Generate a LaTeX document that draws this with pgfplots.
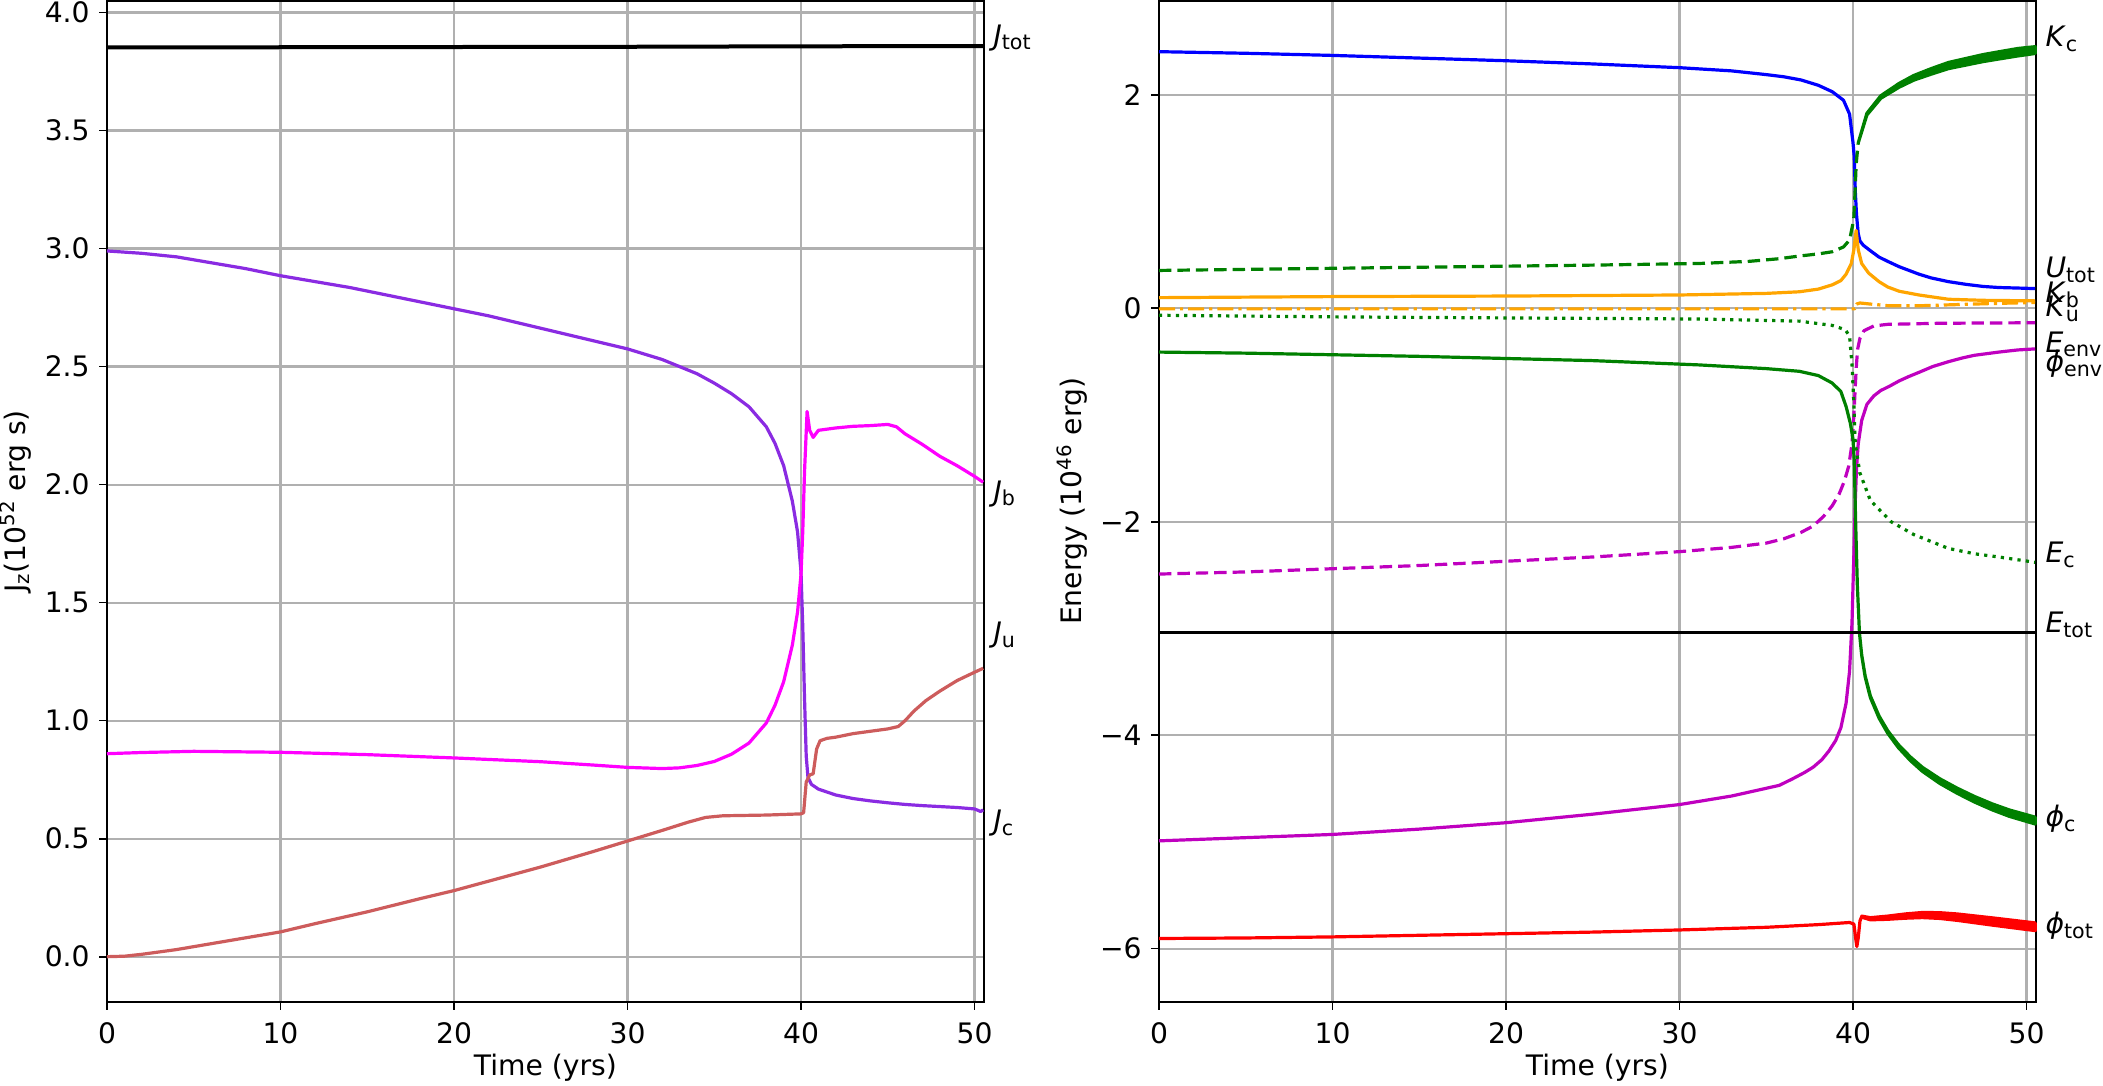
\documentclass[border=0pt]{standalone}
\usepackage{pgfplots}
\pgfplotsset{compat=1.18}
\usepackage{fontspec}
\setmainfont{DejaVu Sans}
\newcommand\fs{\fontsize{14.1}{17}\selectfont}
\newcommand\sub[1]{\raisebox{-2.4pt}{\fontsize{10.3}{12}\selectfont #1}}
\definecolor{bviolet}{HTML}{8A2BE2}
\definecolor{ired}{HTML}{CD5C5C}
\definecolor{mgreen}{HTML}{008000}
\definecolor{morange}{HTML}{FFA500}
\definecolor{mmag}{HTML}{BF00BF}
\definecolor{fmag}{HTML}{FF00FF}
\definecolor{gridc}{HTML}{B0B0B0}
\pgfplotsset{
 mystyle/.style={
  scale only axis, width=438.35pt, height=500.5pt, anchor=south west,
  xmin=0, xmax=50.53,
  xtick={0,10,20,30,40,50}, xticklabels={0,10,20,30,40,50},
  tick align=outside, xtick pos=left, ytick pos=left,
  major tick length=3.85pt,
  every tick/.style={black, line width=0.85pt},
  axis line style={line width=0.85pt},
  grid=major, major grid style={gridc, line width=1.1pt},
  xticklabel style={font=\fs, inner sep=0pt, anchor=north, yshift=-6pt},
  yticklabel style={font=\fs, inner sep=0pt, anchor=east, xshift=-4.65pt},
  clip=false,
  every axis plot/.append style={line width=1.6pt, line join=round},
 },
}
\tikzset{
 lab/.style={anchor=base west, inner sep=0pt, xshift=4.7pt, font=\fs},
 dashedm/.style={dash pattern=on 6.2pt off 3pt},
 dottedm/.style={dash pattern=on 1.6pt off 2.6pt},
 dashdotm/.style={dash pattern=on 8pt off 2.5pt on 1.6pt off 2.5pt},
}
\begin{document}
\begin{tikzpicture}
% ---------------- left panel ----------------
\begin{axis}[mystyle, at={(53.5pt,42pt)},
  ymin=-0.192, ymax=4.049,
  ytick={0,0.5,1,1.5,2,2.5,3,3.5,4},
  yticklabels={0.0,0.5,1.0,1.5,2.0,2.5,3.0,3.5,4.0}]
\addplot[black, line width=2pt] coordinates {(0,3.852)(10,3.853)(20,3.854)(30,3.855)(40,3.857)(50.5,3.858)};
\addplot[bviolet] coordinates {(0,2.99)(2,2.98)(4,2.965)(6,2.94)(8,2.915)(10,2.885)(12,2.86)(14,2.835)(16,2.805)(18,2.775)(20,2.745)(22,2.715)(24,2.68)(26,2.645)(28,2.61)(30,2.575)(32,2.53)(34,2.47)(35,2.43)(36,2.385)(37,2.33)(38,2.245)(38.5,2.175)(39,2.08)(39.5,1.93)(39.8,1.8)(40.0,1.63)(40.1,1.4)(40.2,1.1)(40.3,0.85)(40.4,0.76)(40.6,0.73)(41,0.71)(42,0.685)(43,0.67)(44,0.66)(45,0.652)(46,0.645)(47,0.64)(48,0.636)(49,0.632)(50,0.626)(50.2,0.62)(50.35,0.615)(50.5,0.622)};
\addplot[fmag] coordinates {(0,0.86)(2,0.865)(5,0.87)(10,0.866)(15,0.856)(20,0.842)(25,0.826)(28,0.812)(30,0.802)(32,0.797)(33,0.80)(34,0.81)(35,0.827)(36,0.858)(37,0.905)(38,0.99)(38.5,1.065)(39,1.165)(39.5,1.32)(39.8,1.46)(40.0,1.62)(40.1,1.8)(40.2,2.05)(40.35,2.31)(40.5,2.23)(40.7,2.2)(41,2.23)(42,2.24)(43,2.247)(44,2.25)(45,2.255)(45.5,2.245)(46,2.215)(47,2.17)(48,2.12)(49,2.08)(50,2.035)(50.5,2.01)};
\addplot[ired] coordinates {(0,0)(1,0.002)(2,0.01)(4,0.03)(6,0.055)(8,0.08)(10,0.105)(12,0.14)(15,0.19)(18,0.245)(20,0.28)(23,0.34)(25,0.38)(28,0.445)(30,0.49)(32,0.535)(33.5,0.57)(34.5,0.59)(35.5,0.597)(38,0.6)(40.0,0.605)(40.15,0.61)(40.3,0.74)(40.5,0.77)(40.7,0.775)(40.9,0.88)(41.1,0.915)(41.5,0.925)(42,0.93)(43,0.945)(44,0.955)(45,0.965)(45.6,0.975)(46,1.0)(46.5,1.04)(47.2,1.085)(48,1.125)(49,1.17)(50,1.205)(50.5,1.222)};
\node[lab] at (axis cs:50.53,3.862) {\textit{J}\sub{tot}};
\node[lab] at (axis cs:50.53,1.93) {\textit{J}\sub{b}};
\node[lab] at (axis cs:50.53,1.33) {\textit{J}\sub{u}};
\node[lab] at (axis cs:50.53,0.535) {\textit{J}\sub{c}};
\end{axis}
% ---------------- right panel ----------------
\begin{axis}[mystyle, at={(579.5pt,42pt)},
  ymin=-6.50, ymax=2.88,
  ytick={-6,-4,-2,0,2},
  yticklabels={−6,−4,−2,0,2}]
\addplot[blue] coordinates {(0,2.405)(5,2.39)(10,2.37)(15,2.345)(20,2.32)(25,2.29)(30,2.255)(33,2.225)(35,2.19)(36,2.17)(37,2.14)(38,2.09)(38.8,2.03)(39.45,1.95)(39.8,1.82)(40.0,1.55)(40.07,1.42)(40.13,1.1)(40.2,0.88)(40.3,0.7)(40.4,0.63)(40.6,0.59)(41,0.54)(41.5,0.48)(42,0.44)(42.66,0.39)(43.8,0.32)(44.5,0.285)(45.5,0.25)(46.5,0.225)(47.5,0.205)(48.4,0.195)(49.5,0.19)(50.5,0.185)};
\addplot[mgreen, dashedm] coordinates {(0,0.355)(5,0.365)(10,0.375)(15,0.385)(20,0.395)(25,0.405)(31.1,0.42)(34,0.44)(35.75,0.465)(36.9,0.49)(38,0.51)(38.8,0.53)(39.45,0.575)(39.8,0.64)(40.04,0.83)(40.12,1.1)(40.18,1.35)(40.3,1.55)};
\addplot[mgreen, fill=mgreen] coordinates {(40.3,1.55)(40.8,1.828)(41.6,1.992)(42.66,2.108)(43.5,2.182)(44.5,2.246)(45.5,2.304)(46.5,2.341)(47.5,2.378)(48.4,2.404)(49.5,2.435)(50.5,2.452)(50.5,2.388)(49.5,2.365)(48.4,2.336)(47.5,2.312)(46.5,2.279)(45.5,2.246)(44.5,2.194)(43.5,2.138)(42.66,2.072)(41.6,1.968)(40.8,1.812)(40.3,1.55)} -- cycle;
\addplot[morange] coordinates {(0,0.10)(10,0.11)(20,0.115)(30,0.125)(35,0.14)(36.9,0.155)(38,0.18)(38.8,0.22)(39.3,0.26)(39.6,0.32)(39.9,0.42)(40.05,0.55)(40.18,0.73)(40.3,0.55)(40.5,0.42)(40.9,0.33)(41.5,0.25)(42,0.2)(42.66,0.16)(43.8,0.125)(45.5,0.085)(47.5,0.075)(50.5,0.07)};
\addplot[morange, dashdotm] coordinates {(0,-0.005)(40.1,-0.005)(40.2,0.04)(40.4,0.05)(41,0.04)(42,0.025)(44,0.025)(46,0.035)(48,0.045)(50.5,0.055)};
\addplot[mmag, dashedm] coordinates {(0,-2.49)(5,-2.47)(10,-2.44)(15,-2.41)(20,-2.37)(25,-2.33)(30,-2.28)(33,-2.24)(35,-2.20)(36,-2.16)(37,-2.10)(37.7,-2.04)(38.3,-1.95)(38.8,-1.85)(39.2,-1.74)(39.5,-1.62)(39.75,-1.48)(39.94,-1.27)(40.05,-1.0)(40.13,-0.73)(40.2,-0.52)(40.27,-0.38)(40.4,-0.28)(40.63,-0.21)(41.2,-0.165)(42,-0.15)(45,-0.14)(50.5,-0.135)};
\addplot[mmag] coordinates {(0,-4.99)(5,-4.96)(10,-4.93)(15,-4.88)(20,-4.82)(25,-4.74)(30,-4.65)(33,-4.57)(35.75,-4.47)(36.5,-4.41)(37.2,-4.35)(37.7,-4.30)(38.2,-4.23)(38.6,-4.15)(39.0,-4.05)(39.3,-3.93)(39.6,-3.70)(39.8,-3.40)(39.94,-2.95)(40.05,-2.3)(40.13,-1.81)(40.2,-1.5)(40.3,-1.27)(40.5,-1.05)(40.8,-0.9)(41.2,-0.82)(41.6,-0.77)(42.1,-0.73)(42.66,-0.68)(43.2,-0.64)(43.8,-0.6)(44.6,-0.545)(45.5,-0.5)(46.3,-0.465)(47,-0.44)(48.4,-0.41)(49.5,-0.39)(50.5,-0.38)};
\addplot[mgreen, dottedm] coordinates {(0,-0.065)(10,-0.08)(20,-0.09)(31.1,-0.10)(36.9,-0.12)(38.8,-0.16)(39.55,-0.2)(39.8,-0.26)(39.94,-0.52)(40.05,-0.9)(40.13,-1.27)(40.39,-1.54)(41.0,-1.8)(42.2,-2.0)(43.5,-2.12)(45.5,-2.25)(47,-2.3)(48.4,-2.33)(50.5,-2.38)};
\addplot[mgreen] coordinates {(0,-0.41)(5,-0.42)(10,-0.435)(15,-0.45)(20,-0.47)(25,-0.49)(31.1,-0.53)(35,-0.565)(36.9,-0.59)(38,-0.63)(38.8,-0.7)(39.3,-0.78)(39.6,-0.92)(39.85,-1.08)(40.0,-1.23)(40.07,-1.43)(40.15,-2.0)(40.25,-2.6)(40.37,-3.04)};
\addplot[mgreen, fill=mgreen] coordinates {(40.37,-3.04)(40.5,-3.247)(40.7,-3.445)(41,-3.632)(41.5,-3.82)(42,-3.958)(42.6,-4.086)(43.3,-4.203)(44,-4.301)(45,-4.408)(46,-4.496)(47,-4.574)(48,-4.642)(49,-4.70)(50.5,-4.768)(50.5,-4.832)(49,-4.76)(48,-4.698)(47,-4.626)(46,-4.544)(45,-4.452)(44,-4.339)(43.3,-4.237)(42.6,-4.114)(42,-3.982)(41.5,-3.84)(41,-3.648)(40.7,-3.455)(40.5,-3.253)(40.37,-3.04)} -- cycle;
\addplot[black] coordinates {(0,-3.035)(50.5,-3.035)};
\addplot[red] coordinates {(0,-5.905)(5,-5.9)(10,-5.89)(15,-5.875)(20,-5.86)(25,-5.845)(30,-5.825)(35,-5.8)(38,-5.775)(39.8,-5.755)(40.05,-5.77)(40.15,-5.9)(40.22,-5.98)(40.3,-5.9)(40.4,-5.74)(40.5,-5.70)};
\addplot[red, fill=red] coordinates {(40.5,-5.695)(41,-5.71)(42,-5.695)(43,-5.675)(44,-5.661)(45,-5.663)(46,-5.675)(47,-5.693)(48,-5.711)(49,-5.73)(50.5,-5.759)(50.5,-5.831)(49,-5.80)(48,-5.779)(47,-5.757)(46,-5.735)(45,-5.717)(44,-5.709)(43,-5.715)(42,-5.725)(41,-5.73)(40.5,-5.705)} -- cycle;
\node[lab] at (axis cs:50.53,2.45) {\textit{K}\sub{c}};
\node[lab] at (axis cs:50.53,0.29) {\textit{U}\sub{tot}};
\node[lab] at (axis cs:50.53,0.05) {\textit{K}\sub{b}};
\node[lab] at (axis cs:50.53,-0.08) {\textit{K}\sub{u}};
\node[lab] at (axis cs:50.53,-0.41) {\textit{E}\sub{env}};
\node[lab] at (axis cs:50.53,-0.59) {\textit{ϕ}\sub{env}};
\node[lab] at (axis cs:50.53,-2.38) {\textit{E}\sub{c}};
\node[lab] at (axis cs:50.53,-3.04) {\textit{E}\sub{tot}};
\node[lab] at (axis cs:50.53,-4.86) {\textit{ϕ}\sub{c}};
\node[lab] at (axis cs:50.53,-5.86) {\textit{ϕ}\sub{tot}};
\end{axis}
% axis titles
\node[font=\fs, anchor=base, inner sep=0pt] at (272.7pt,5pt) {Time (yrs)};
\node[font=\fs, anchor=base, inner sep=0pt] at (798.7pt,5pt) {Time (yrs)};
\node[font=\fs, anchor=south, inner sep=0pt, rotate=90] at (15.65pt,292.25pt) {J\textsubscript{z}(10\textsuperscript{52} erg s)};
\node[font=\fs, anchor=south, inner sep=0pt, rotate=90] at (544pt,292.25pt) {Energy (10\textsuperscript{46} erg)};
\pgfresetboundingbox
\path (0pt,0pt) rectangle (1051.5pt,543pt);
\end{tikzpicture}
\end{document}
